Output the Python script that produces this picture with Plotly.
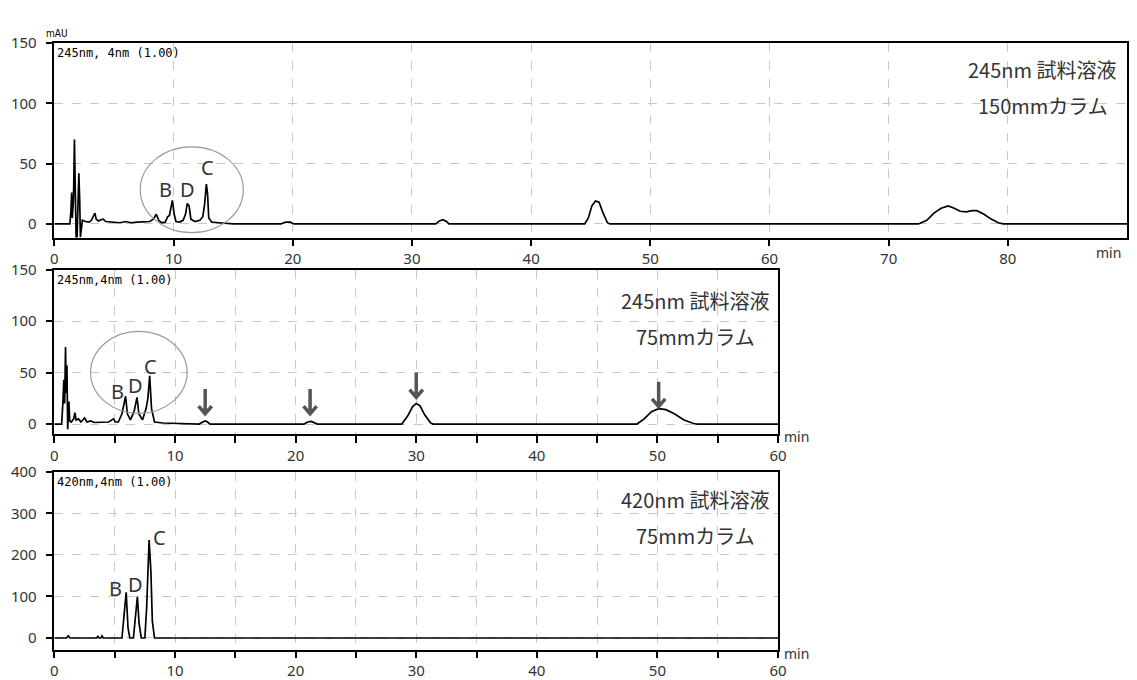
import plotly.graph_objects as go

W, H = 1137, 680

# ---------------- data ----------------
# Panel 1: 245nm, 150mm column
t_150 = [0, 1.3, 1.38, 1.45, 1.5, 1.6, 1.68, 1.75, 1.82, 1.9, 1.98, 2.05, 2.12, 2.18, 2.25, 2.35,
         2.6, 2.9, 3.1, 3.3, 3.4, 3.5, 3.7, 3.9, 4.1, 4.3, 4.8, 5.5, 6.0, 6.4, 7.0, 7.5, 8.0, 8.3,
         8.55, 8.75, 9.0, 9.3, 9.5, 9.65, 9.75, 9.9, 10.05, 10.2, 10.5, 10.8, 11.0, 11.15, 11.3,
         11.45, 11.8, 12.2, 12.45, 12.6, 12.75, 12.85, 12.95, 13.2, 13.8, 14.5, 15, 19.0, 19.4,
         19.8, 20.1, 32.0, 32.3, 32.6, 32.9, 33.1, 44.5, 44.8, 45.1, 45.4, 45.7, 46.0, 46.4, 46.6,
         72.5, 73.2, 73.8, 74.4, 75.0, 75.5, 76.0, 76.5, 77.0, 77.4, 78.0, 78.6, 79.2, 79.6, 90]
a_150 = [0, 0, 10, 26, 5, 20, 70, 40, -11, -11, 10, 42, 20, -11, -5, 3,
         2, 1.5, 3, 8, 9, 4, 2.5, 3.5, 4, 2, 1.5, 1, 2, 1, 1.5, 1.5, 2, 4,
         8, 3, 1, 1.5, 6, 7, 12, 19.5, 8, 2, 1.5, 3, 8, 17, 15,
         4, 2, 3, 6, 16, 33, 25, 5, 1.5, 1, 0.5, 0, 0, 1.5,
         1.5, 0, 0, 2.5, 3.5, 2, 0, 0, 5, 15, 19, 18, 10, 1, 0,
         0, 3, 9, 13, 15, 13, 10.5, 10, 11, 11, 8, 4, 1, 0, 0]

# Panel 2: 245nm, 75mm column
t_75 = [0, 0.6, 0.7, 0.78, 0.85, 0.92, 0.98, 1.04, 1.1, 1.15, 1.2, 1.27, 1.4, 1.6, 1.7, 1.8,
        2.0, 2.2, 2.5, 2.7, 3.0, 3.3, 4.0, 4.5, 4.9, 5.05, 5.3, 5.6, 5.9, 6.05, 6.3, 6.6, 6.85,
        7.0, 7.3, 7.6, 7.75, 7.9, 8.05, 8.3, 9.0, 10, 11, 12.0, 12.3, 12.5, 12.7, 12.9, 20.7,
        21.0, 21.3, 21.6, 21.8, 28.8, 29.3, 29.7, 30.0, 30.3, 30.7, 31.2, 31.4, 48.3, 48.9,
        49.5, 50.1, 50.7, 51.4, 52.2, 53.0, 53.3, 60]
a_75 = [0, 0, 20, 43, 20, 75, 30, 57, -5, 5, 22, 3, 2, 5, 11, 4,
        5, 2, 6, 2, 3, 1.5, 1.5, 2, 5, 2, 2, 10, 27, 10, 4, 12, 26,
        10, 4, 15, 25, 47, 15, 2, 1, 0.5, 0, 0, 2, 3, 2, 0, 0,
        2, 2.5, 1, 0, 0, 8, 17, 20, 18, 9, 1, 0, 0, 5,
        12, 15, 14, 10, 4, 0.5, 0, 0]

# Panel 3: 420nm, 75mm column
t_420 = [0, 1.0, 1.15, 1.3, 3.5, 3.6, 3.7, 3.85, 3.95, 4.05, 5.6, 5.8, 5.95, 6.1, 6.25,
         6.55, 6.7, 6.88, 7.02, 7.2, 7.5, 7.65, 7.85, 8.0, 8.12, 8.3, 60]
a_420 = [0, 0, 5, 0, 0, 4, 0, 0, 5, 0, 0, 55, 110, 25, 0,
         0, 45, 100, 35, 0, 0, 75, 236, 160, 40, 0, 0]

# peak letters (label anchor positions per panel)
peak_names = ["B", "D", "C"]
lab_t_150 = [9.3, 11.2, 12.85]
lab_a_150 = [28.4, 28.4, 47]
lab_t_75 = [5.25, 6.7, 7.95]
lab_a_75 = [31.3, 37, 56]
lab_t_420 = [5.08, 6.72, 8.69]
lab_a_420 = [118, 129, 241]

# arrows in panel 2 (time, tip value)
arrow_t = [12.5, 21.2, 30.0, 50.1]
arrow_tip = [10, 10, 26, 17]

# axis ticks
x_ticks_150 = [0, 10, 20, 30, 40, 50, 60, 70, 80]
x_ticks_75 = [0, 5, 10, 15, 20, 25, 30, 35, 40, 45, 50, 55, 60]
x_text_75 = ["0", "", "10", "", "20", "", "30", "", "40", "", "50", "", "60"]
y_ticks_245 = [0, 50, 100, 150]
y_ticks_420 = [0, 100, 200, 300, 400]

panel_titles = [("245nm 試料溶液", "150mmカラム"),
                ("245nm 試料溶液", "75mmカラム"),
                ("420nm 試料溶液", "75mmカラム")]
channel_labels = ["245nm, 4nm (1.00)", "245nm,4nm (1.00)", "420nm,4nm (1.00)"]

# ---------------- figure ----------------
fig = go.Figure()
line = dict(color="black", width=1.7)
fig.add_trace(go.Scatter(x=t_150, y=a_150, mode="lines", line=line, xaxis="x", yaxis="y",
                         hoverinfo="skip"))
fig.add_trace(go.Scatter(x=t_75, y=a_75, mode="lines", line=line, xaxis="x2", yaxis="y2",
                         hoverinfo="skip"))
fig.add_trace(go.Scatter(x=t_420, y=a_420, mode="lines", line=line, xaxis="x3", yaxis="y3",
                         hoverinfo="skip"))

tickfont = dict(family="Noto Sans, DejaVu Sans, sans-serif", size=15, color="#333")


def major_axis(dom, rng, tickvals, ticktext, anchor):
    return dict(domain=dom, range=rng, tickmode="array", tickvals=tickvals, ticktext=ticktext,
                ticks="outside", ticklen=7, tickwidth=1.5, tickcolor="black",
                showline=True, linecolor="black", linewidth=1.5, mirror=True,
                zeroline=False, tickfont=tickfont, anchor=anchor,
                showgrid=True, gridcolor="#c8c8c8", griddash="dash", gridwidth=1)


def minor_axis(over, rng, dtick, anchor):
    # overlay axis used only to draw the small intermediate ticks
    return dict(overlaying=over, range=rng, tickmode="linear", tick0=0, dtick=dtick,
                ticks="outside", ticklen=4, tickwidth=1.2, tickcolor="black",
                showticklabels=False, showgrid=False, showline=False, zeroline=False,
                anchor=anchor, fixedrange=True)


def px_x(p):
    return p / W


def px_y(p):
    return 1 - p / H


dom_x1 = [px_x(51), px_x(1136)]
dom_x23 = [px_x(51), px_x(783)]
dom_y1 = [px_y(232), px_y(33)]
dom_y2 = [px_y(433), px_y(265)]
dom_y3 = [px_y(654), px_y(472)]

rx1, rx23 = [0, 90], [0, 60]
ry1, ry2, ry3 = [-11.3, 150], [-9.5, 150], [-28, 400]

y1 = major_axis(dom_y1, ry1, y_ticks_245, [str(v) for v in y_ticks_245], "x")
y2 = major_axis(dom_y2, ry2, y_ticks_245, [str(v) for v in y_ticks_245], "x2")
y3 = major_axis(dom_y3, ry3, y_ticks_420, [str(v) for v in y_ticks_420], "x3")
for y in (y1, y2, y3):
    y["ticklabelstandoff"] = 6

fig.update_layout(
    width=W, height=H, margin=dict(l=0, r=0, t=0, b=0),
    paper_bgcolor="white", plot_bgcolor="white", showlegend=False,
    xaxis=major_axis(dom_x1, rx1, x_ticks_150, [str(v) for v in x_ticks_150], "y"),
    yaxis=y1,
    xaxis2=major_axis(dom_x23, rx23, x_ticks_75, x_text_75, "y2"),
    yaxis2=y2,
    xaxis3=major_axis(dom_x23, rx23, x_ticks_75, x_text_75, "y3"),
    yaxis3=y3,
    xaxis4=minor_axis("x", rx1, 2, "y"),
    xaxis5=minor_axis("x2", rx23, 1, "y2"),
    xaxis6=minor_axis("x3", rx23, 1, "y3"),
    yaxis4=minor_axis("y", ry1, 10, "x"),
    yaxis5=minor_axis("y2", ry2, 10, "x2"),
    yaxis6=minor_axis("y3", ry3, 25, "x3"),
)

ann = []
jp_font = dict(family="Noto Sans CJK JP, sans-serif", size=20, color="#333")
title_pos = [(1051, 60, 97), (700, 296, 333), (700, 500, 537)]
for (l1, l2), (cx, ya, yb) in zip(panel_titles, title_pos):
    ann.append(dict(text=l1, x=px_x(cx), y=px_y(ya), xref="paper", yref="paper",
                    showarrow=False, font=jp_font, xanchor="center", yanchor="middle"))
    ann.append(dict(text=l2, x=px_x(cx), y=px_y(yb), xref="paper", yref="paper",
                    showarrow=False, font=jp_font, xanchor="center", yanchor="middle"))

mono = dict(family="DejaVu Sans Mono, monospace", size=12, color="black")
for lab, top in zip(channel_labels, [33, 265, 472]):
    ann.append(dict(text=lab, x=px_x(52), y=px_y(top + 1), xref="paper", yref="paper",
                    showarrow=False, font=mono, xanchor="left", yanchor="top"))

ann.append(dict(text="mAU", x=px_x(40), y=px_y(23), xref="paper", yref="paper",
                showarrow=False, xanchor="left", yanchor="middle",
                font=dict(family="DejaVu Sans Condensed, sans-serif", size=10, color="black")))

min_font = dict(family="Noto Sans, sans-serif", size=14, color="#333")
for mx, my in [(1117, 247), (802, 436), (802, 658)]:
    ann.append(dict(text="min", x=px_x(mx), y=px_y(my), xref="paper", yref="paper",
                    showarrow=False, font=min_font, xanchor="center", yanchor="middle"))

letter_font = dict(family="Noto Sans, sans-serif", size=20, color="#333")
for ts, vs, xr, yr in [(lab_t_150, lab_a_150, "x", "y"), (lab_t_75, lab_a_75, "x2", "y2"),
                       (lab_t_420, lab_a_420, "x3", "y3")]:
    for name, t, v in zip(peak_names, ts, vs):
        ann.append(dict(text=name, x=t, y=v, xref=xr, yref=yr, showarrow=False,
                        font=letter_font, xanchor="center", yanchor="middle"))

fig.update_layout(annotations=ann)

shapes = []
# ellipses around B, D, C
shapes.append(dict(type="circle", xref="x", yref="y", x0=7.2, x1=15.85, y0=-7.3, y1=64,
                   line=dict(color="#9a9a9a", width=1.2)))
shapes.append(dict(type="circle", xref="x2", yref="y2", x0=3.0, x1=11.0, y0=10.4, y1=90,
                   line=dict(color="#9a9a9a", width=1.2)))
# down arrows
hw, hh, ln = 0.55, 7.5, 24
for t, tip in zip(arrow_t, arrow_tip):
    path = (f"M {t},{tip + ln} L {t},{tip + 1} "
            f"M {t - hw},{tip + hh} L {t},{tip} L {t + hw},{tip + hh}")
    shapes.append(dict(type="path", xref="x2", yref="y2", path=path,
                       line=dict(color="#555555", width=3.5)))
fig.update_layout(shapes=shapes)

fig.write_html(
    "out.html",
    config={"displayModeBar": False},
    post_script=("document.documentElement.style.margin='0';"
                 "document.body.style.margin='0';"
                 "document.documentElement.style.overflow='hidden';"
                 "document.body.style.overflow='hidden';"),
)
